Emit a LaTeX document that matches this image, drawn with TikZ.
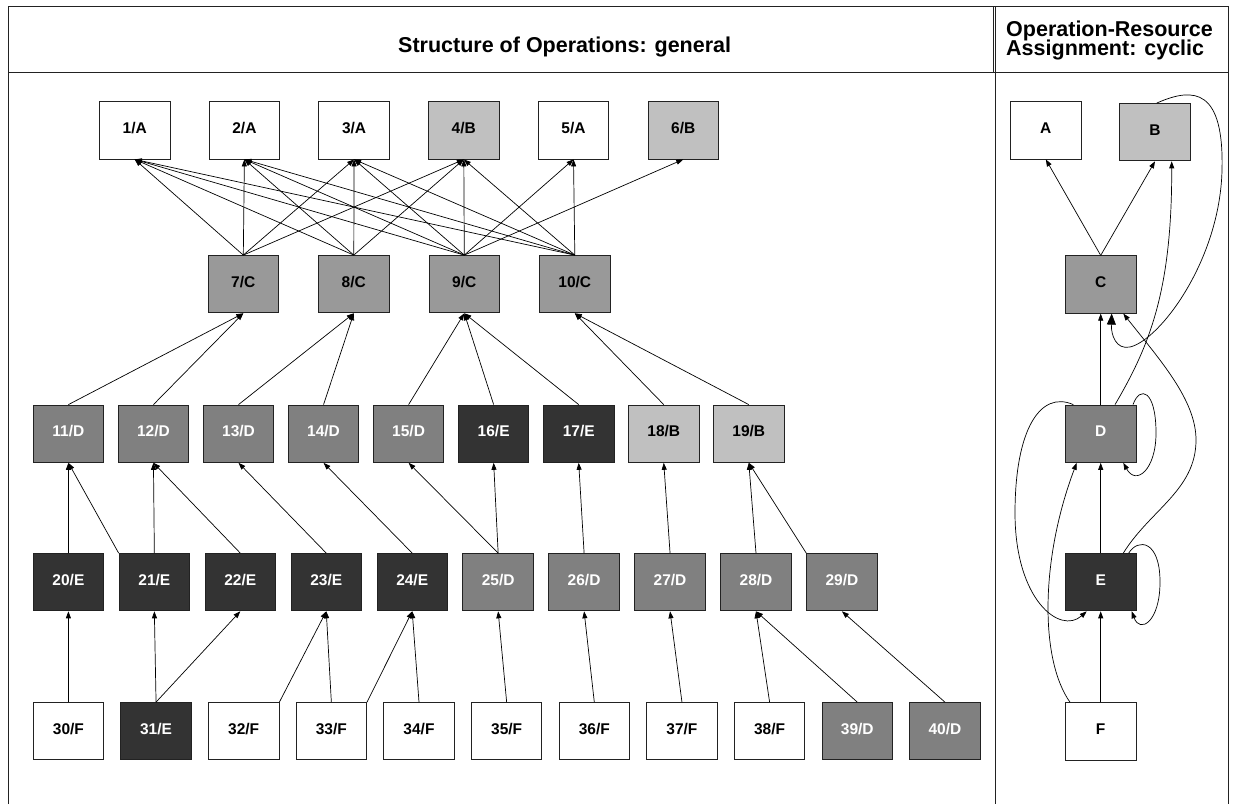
\documentclass[tikz,border=0pt]{standalone}
\usepackage{fontspec}
\setmainfont{Liberation Sans}
\usetikzlibrary{arrows.meta}
\definecolor{resBfill}{HTML}{C0C0C0}
\definecolor{resCfill}{HTML}{999999}
\definecolor{resDfill}{HTML}{808080}
\definecolor{resEfill}{HTML}{333333}
\definecolor{edgegray}{HTML}{222222}
\begin{document}
\begin{tikzpicture}[x=1pt,y=-1pt,
  box/.style={draw=edgegray, line width=0.9pt, minimum width=70.5pt, minimum height=57.3pt,
    inner sep=0pt, font=\fontsize{15.5}{15.5}\selectfont\bfseries,
    text height=11.1pt, text depth=5pt},
  resA/.style={box, fill=white, text=black},
  resF/.style={box, fill=white, text=black},
  resB/.style={box, fill=resBfill, text=black},
  resC/.style={box, fill=resCfill, text=black},
  resD/.style={box, fill=resDfill, text=white},
  resE/.style={box, fill=resEfill, text=white},
  link/.style={line width=0.7pt, draw=black, -{Triangle[length=7pt,width=5pt]}},
  biglink/.style={line width=0.7pt, draw=black, -{Triangle[length=11pt,width=9pt]}},
  frame/.style={line width=1.3pt, draw=edgegray, line join=miter},
  headfont/.style={font=\fontsize{21.5}{21.5}\selectfont\bfseries, inner sep=0pt}
]
\useasboundingbox (0,0) rectangle (1236,804);
\fill[white] (0,0) rectangle (1236,804);

% table frame
\draw[frame] (8.3,804) -- (8.3,6.7) -- (1228.3,6.7) -- (1228.3,804);
\draw[frame] (8.3,72.7) -- (1228.3,72.7);
\draw[frame] (995.7,6.7) -- (995.7,804);
\draw[frame] (993.2,6.7) -- (993.2,72.7);

% headers
\node[headfont, anchor=base west] (titleL) at (398,52.7) {Structure of Operations: general};
\node[headfont, anchor=base west] (titleR1) at (1006,36) {Operation-Resource};
\node[headfont, anchor=base west] (titleR2) at (1006,55.5) {Assignment: cyclic};

% operations, level 1
\foreach \i/\s in {1/A,2/A,3/A,4/B,5/A,6/B}
  \node[res\s] (n\i) at ({134.7+109.7*(\i-1)},130.3) {\i/\s};
% level 2
\foreach \i/\s in {7/C,8/C,9/C,10/C}
  \node[res\s] (n\i) at ({243.3+110.5*(\i-7)},284.2) {\i/\s};
% level 3
\foreach \i/\s in {11/D,12/D,13/D,14/D,15/D,16/E,17/E,18/B,19/B}
  \node[res\s] (n\i) at ({68.4+85.05*(\i-11)},433.7) {\i/\s};
% level 4
\foreach \i/\s in {20/E,21/E,22/E,23/E,24/E,25/D,26/D,27/D,28/D,29/D}
  \node[res\s] (n\i) at ({68.4+85.95*(\i-20)},582.2) {\i/\s};
% level 5
\foreach \i/\s in {30/F,31/E,32/F,33/F,34/F,35/F,36/F,37/F,38/F,39/D,40/D}
  \node[res\s] (n\i) at ({68.4+87.65*(\i-30)},731.2) {\i/\s};

% precedence links
\foreach \s/\t in {7/1,7/2,7/3,7/4,8/1,8/2,8/3,8/4,
                   9/1,9/2,9/3,9/4,9/5,9/6,10/1,10/2,10/3,10/4,10/5,
                   11/7,12/7,13/8,14/8,15/9,16/9,17/9,18/10,19/10,
                   20/11,21/12,22/12,23/13,24/14,25/15,25/16,26/17,27/18,28/19,
                   30/20,31/21,31/22,33/23,34/24,35/25,36/26,37/27,38/28,39/28,40/29}
  \draw[link] (n\s.north) -- (n\t.south);
\draw[link] (n21.north west) -- (n11.south);
\draw[link] (n29.north west) -- (n19.south);
\draw[link] (n32.north east) -- (n23.south);
\draw[link] (n33.north east) -- (n24.south);

% resources
\node[resA] (rA) at (1045.8,130.3) {A};
\node[resB] (rB) at (1155,132.2) {B};
\node[resC] (rC) at (1100.7,284.5) {C};
\node[resD] (rD) at (1100.7,433.7) {D};
\node[resE] (rE) at (1100.7,582.2) {E};
\node[resF] (rF) at (1100.7,731.3) {F};

\draw[link] (rC.north) -- (rA.south);
\draw[link] (rC.north) -- (rB.south);
\draw[link] (rD.north) -- (rC.south);
\draw[link] (rE.north) -- (rD.south);
\draw[link] (rF.north) -- (rE.south);

% B -> C, around the right side
\draw[biglink] ([xshift=1.7pt]rB.north) .. controls (1195,86) and (1224,90) .. (1222,170)
  .. controls (1220,260) and (1160,340) .. (1130,347)
  .. controls (1116,350) and (1111,335) .. ([xshift=11pt]rC.south);
% E -> C
\draw[link] ([xshift=22.6pt]rE.north) .. controls (1150,510) and (1196,490) .. (1196,440)
  .. controls (1196,400) and (1160,360) .. ([xshift=22.6pt]rC.south);
% D -> B
\draw[link] ([xshift=14.3pt]rD.north) .. controls (1150,345) and (1172,290) .. ([xshift=16.7pt]rB.south);
% D -> D
\draw[link] ([xshift=32.3pt]rD.north) .. controls (1140,385) and (1156,390) .. (1156,433)
  .. controls (1156,470) and (1136,486) .. ([xshift=22.6pt]rD.south);
% E -> E
\draw[link] ([xshift=28pt]rE.north) .. controls (1138,538) and (1160,540) .. (1160,582)
  .. controls (1160,622) and (1140,634) .. ([xshift=31pt]rE.south);
% D -> E, around the left side
\draw[link] ([xshift=-27.4pt]rD.north) .. controls (1040,390) and (1015,430) .. (1015,513)
  .. controls (1015,600) and (1060,635) .. ([xshift=-14pt]rE.south);
% F -> D
\draw[link] ([xshift=-30.7pt]rF.north) .. controls (1040,660) and (1040,560) .. ([xshift=-24pt]rD.south);
\end{tikzpicture}
\end{document}
